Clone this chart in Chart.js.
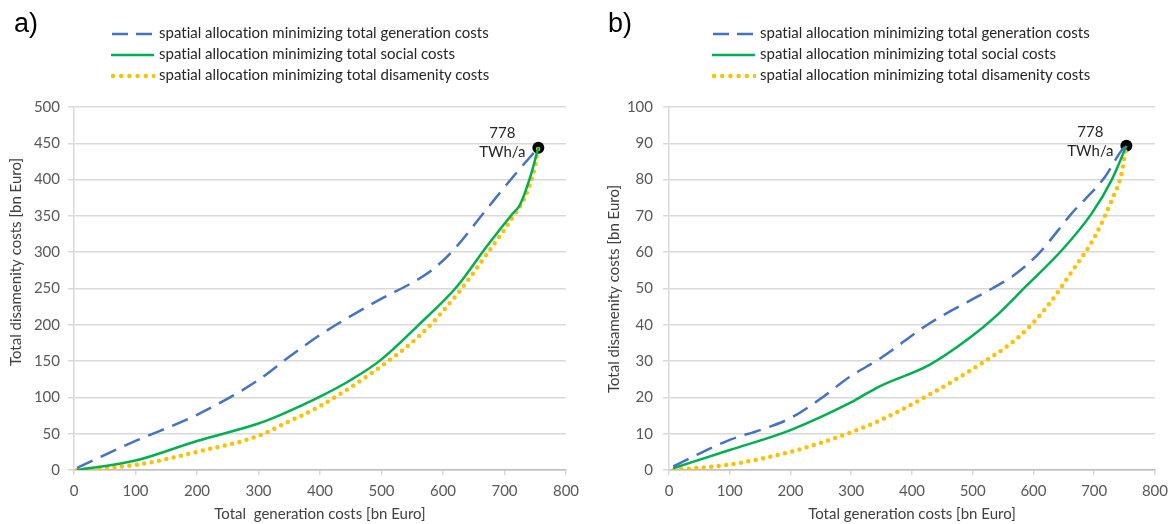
<!DOCTYPE html>
<html lang="en">
<head>
<meta charset="UTF-8" />
<title>Generation vs disamenity costs</title>
<style>
  body { margin: 0; width: 1175px; height: 524px; background: #fff; position: relative; overflow: hidden; font-family: Lato, sans-serif; }
  .panel { position: absolute; top: 0; height: 524px; }
  #wrapA { left: 0; width: 595px; }
  #wrapB { left: 595px; width: 580px; }
  .tag { position: absolute; top: 8px; font: 27px "Liberation Sans", Arial, sans-serif; color: #000; }
  .legend { position: absolute; top: 22px; font-size: 15px; color: #262626; font-variant-ligatures: none; }
  .legend div { height: 21px; line-height: 21px; white-space: nowrap; }
  .legend svg { vertical-align: middle; margin-right: 4px; }
</style>
</head>
<body>

<div class="panel" id="wrapA">
  <canvas id="chartA" width="595" height="524"></canvas>
</div>
<div class="panel" id="wrapB">
  <canvas id="chartB" width="580" height="524"></canvas>
</div>

<div class="tag" style="left:14px">a)</div>
<div class="tag" style="left:608px">b)</div>

<div class="legend" id="legA" style="left:111px"></div>
<div class="legend" id="legB" style="left:712px"></div>

<script src="https://cdn.jsdelivr.net/npm/chart.js"></script>
<script>
  // series labels
  const seriesNames = [
    'spatial allocation minimizing total generation costs',
    'spatial allocation minimizing total social costs',
    'spatial allocation minimizing total disamenity costs'
  ];
  const endLabel = ['778', 'TWh/a'];
  const yTitle = 'Total disamenity costs [bn Euro]';

  // panel a) - x: generation costs, y: disamenity costs (bn Euro)
  const aGenX = [5, 100, 200, 300, 350, 400, 440, 500, 550, 580, 617, 666, 714, 755];
  const aGenY = [3, 40, 76, 124, 156, 186, 207, 236, 258, 274, 303, 354, 404, 444];
  const aSocX = [5, 100, 200, 300, 336, 400, 450, 498, 563, 622, 671, 714, 725, 742, 755];
  const aSocY = [0, 13, 40, 64, 76, 101, 124, 151, 202, 252, 308, 354, 365, 404, 444];
  const aDisX = [5, 100, 200, 300, 340, 400, 498, 563, 622, 676, 714, 731, 747, 755];
  const aDisY = [0, 7, 25, 47, 63, 88, 142, 186, 241, 303, 349, 372, 409, 444];

  // panel b)
  const bGenX = [7, 100, 150, 200, 250, 297, 350, 428, 532, 565, 609, 663, 718, 745, 753];
  const bGenY = [1, 8.3, 11, 14.3, 19.7, 25.6, 31, 40.3, 50, 53.3, 59.7, 70.7, 80.8, 88, 89.3];
  const bSocX = [7, 100, 200, 297, 346, 428, 494, 537, 587, 647, 696, 729, 753];
  const bSocY = [0.5, 5.5, 11, 18.4, 23, 28.9, 36.3, 42.2, 50.5, 60.6, 70.7, 80, 89.3];
  const bDisX = [8, 100, 200, 250, 300, 350, 428, 510, 576, 620, 663, 701, 729, 745, 753];
  const bDisY = [0, 1.5, 5, 7.5, 10.4, 13.9, 20.7, 28.9, 36.7, 44.5, 54.6, 64.3, 74.4, 81.7, 89.3];

  const xMin = 0, xMax = 800, xStep = 100;
  const aYMax = 500, aYStep = 50;
  const bYMax = 100, bYStep = 10;

  const BLUE = '#4472C4', GREEN = '#00B050', GOLD = '#FFC000';
  const TICK_COLOR = '#595959';
  const GRID = '#d9d9d9';
  const FONT = { family: 'Lato', size: 15 };

  function pts(xs, ys) {
    return xs.map((x, i) => ({ x: x, y: ys[i] }));
  }

  function buildLegend(id) {
    const box = document.getElementById(id);
    const samples = [
      `<line x1="1" y1="5" x2="43" y2="5" stroke="${BLUE}" stroke-width="2.5" stroke-dasharray="16 8"/>`,
      `<line x1="0" y1="5" x2="43" y2="5" stroke="${GREEN}" stroke-width="2.5"/>`,
      `<line x1="2" y1="5" x2="43" y2="5" stroke="${GOLD}" stroke-width="4.5" stroke-linecap="round" stroke-dasharray="0 8.2"/>`
    ];
    box.innerHTML = seriesNames.map((n, i) =>
      `<div><svg width="44" height="10">${samples[i]}</svg>${n}</div>`).join('');
  }
  buildLegend('legA');
  buildLegend('legB');

  // writes "778 TWh/a" next to the end point and the y axis title
  const extrasPlugin = {
    id: 'extras',
    afterDatasetsDraw(chart, args, opts) {
      const p = chart.data.datasets[3].data[0];
      const x = chart.scales.x.getPixelForValue(p.x);
      const y = chart.scales.y.getPixelForValue(p.y);
      const ctx = chart.ctx;
      ctx.save();
      ctx.font = '15px Lato';
      ctx.fillStyle = '#262626';
      ctx.textAlign = 'center';
      ctx.textBaseline = 'middle';
      ctx.fillText(endLabel[0], x - 36, y - 14);
      ctx.fillText(endLabel[1], x - 36, y + 5);

      // y title
      ctx.fillStyle = '#404040';
      ctx.translate(opts.titleX, opts.titleY);
      ctx.rotate(-Math.PI / 2);
      ctx.fillText(yTitle, 0, 0);
      ctx.restore();
    }
  };

  function makeChart(id, gen, soc, dis, yMax, yStep, cfg) {
    const last = gen[gen.length - 1];
    return new Chart(document.getElementById(id), {
      type: 'scatter',
      data: {
        datasets: [
          { data: gen, showLine: true, borderColor: BLUE, borderWidth: 2.5, borderDash: [17, 9],
            pointRadius: 0, cubicInterpolationMode: 'monotone' },
          { data: soc, showLine: true, borderColor: GREEN, borderWidth: 2.5,
            pointRadius: 0, cubicInterpolationMode: 'monotone' },
          { data: dis, showLine: true, borderColor: GOLD, borderWidth: 4.5, borderDash: [0, 7.5],
            borderCapStyle: 'round', pointRadius: 0, cubicInterpolationMode: 'monotone' },
          { data: [last], showLine: false, pointRadius: 6, pointBackgroundColor: '#000',
            pointBorderColor: '#000', pointBorderWidth: 0 }
        ]
      },
      options: {
        responsive: false,
        animation: false,
        layout: { padding: { top: 107, right: cfg.rightPad, left: 0, bottom: 0 } },
        plugins: {
          legend: { display: false },
          tooltip: { enabled: false },
          extras: { titleX: cfg.titleX, titleY: cfg.titleY }
        },
        scales: {
          x: {
            min: xMin, max: xMax,
            afterFit: s => { s.height = 54; },
            ticks: { stepSize: xStep, color: TICK_COLOR, padding: 7, font: FONT },
            grid: { drawOnChartArea: false, drawTicks: true, tickLength: 5, color: GRID, lineWidth: 1.5 },
            border: { color: '#bfbfbf', width: 1.5 },
            title: { display: true, text: cfg.xTitle, color: '#404040', padding: { top: 0, bottom: 1 }, font: FONT }
          },
          y: {
            min: 0, max: yMax,
            afterFit: s => { s.width = 74; },
            ticks: { stepSize: yStep, color: TICK_COLOR, padding: cfg.yTickPad, font: FONT },
            grid: { color: GRID, lineWidth: 1.5, tickLength: 6 },
            border: { color: GRID, width: 1.5 }
          }
        }
      },
      plugins: [extrasPlugin]
    });
  }

  makeChart('chartA', pts(aGenX, aGenY), pts(aSocX, aSocY), pts(aDisX, aDisY), aYMax, aYStep,
    { rightPad: 29, yTickPad: 8, titleX: 16, titleY: 262, xTitle: 'Total  generation costs [bn Euro]' });
  makeChart('chartB', pts(bGenX, bGenY), pts(bSocX, bSocY), pts(bDisX, bDisY), bYMax, bYStep,
    { rightPad: 18, yTickPad: 10, titleX: 19, titleY: 289, xTitle: 'Total generation costs [bn Euro]' });
</script>
</body>
</html>
